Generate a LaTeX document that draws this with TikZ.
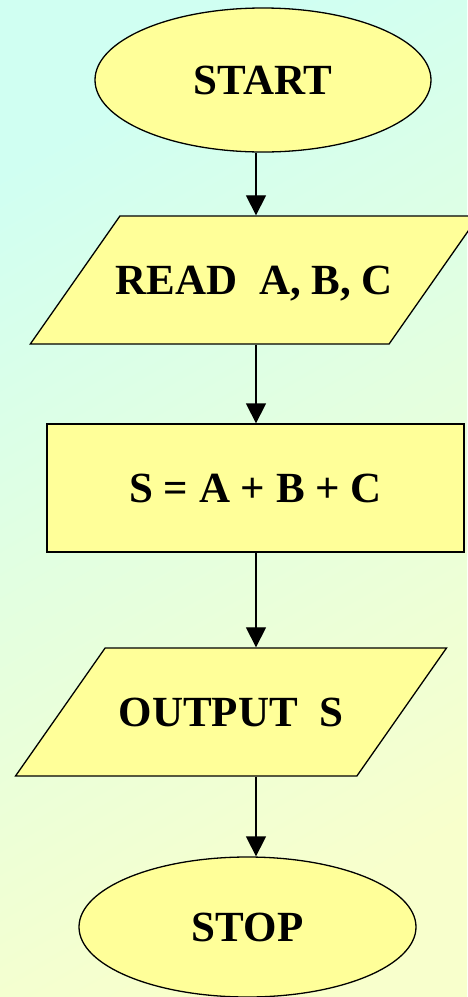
\documentclass[tikz,border=0pt]{standalone}
\usepackage{fontspec}
\setmainfont{Liberation Serif}
\usetikzlibrary{arrows.meta,shapes.geometric}
\definecolor{bgtop}{HTML}{D0FFF2}
\definecolor{bgbot}{HTML}{F8FFCC}
\definecolor{boxfill}{HTML}{FFFF99}

\begin{document}
\begin{tikzpicture}[
  x=1pt, y=-1pt,
  >={Triangle[width=20pt,length=20pt]},
  shapebase/.style={draw=black, fill=boxfill, line width=1.3pt, inner sep=0pt, font=\bfseries\fontsize{43}{50}\selectfont},
  term/.style={shapebase, ellipse, minimum width=336pt, minimum height=144pt},
  io/.style={shapebase, trapezium, trapezium left angle=55, trapezium right angle=125, trapezium stretches body, text height=34pt, text depth=6pt, inner ysep=44pt},
  proc/.style={shapebase, rectangle, minimum width=417pt, minimum height=128pt},
  arr/.style={->, line width=1.3pt},
]

\useasboundingbox (0,0) rectangle (467,997);
\shade[top color=bgtop, bottom color=bgbot, shading angle=30] (0,0) rectangle (467,997);

\coordinate (spine) at (256,0);

\node[term] (start) at (263,80) {START};
\node[io, minimum width=445pt, inner xsep=-4pt] (read) at (254.5,280) {READ~~A, B, C};
\node[proc] (sum) at (255.5,488) {S = A + B + C};
\node[io, minimum width=431pt] (output) at (231,712) {OUTPUT~~S};
\node[term, minimum width=337pt, minimum height=140pt] (stop) at (247.5,927) {STOP};

\draw[arr] (start.south -| spine) -- (read.north -| spine);
\draw[arr] (read.south -| spine) -- (sum.north -| spine);
\draw[arr] (sum.south -| spine) -- (output.north -| spine);
\draw[arr] (output.south -| spine) -- (stop.north -| spine);

\end{tikzpicture}
\end{document}
